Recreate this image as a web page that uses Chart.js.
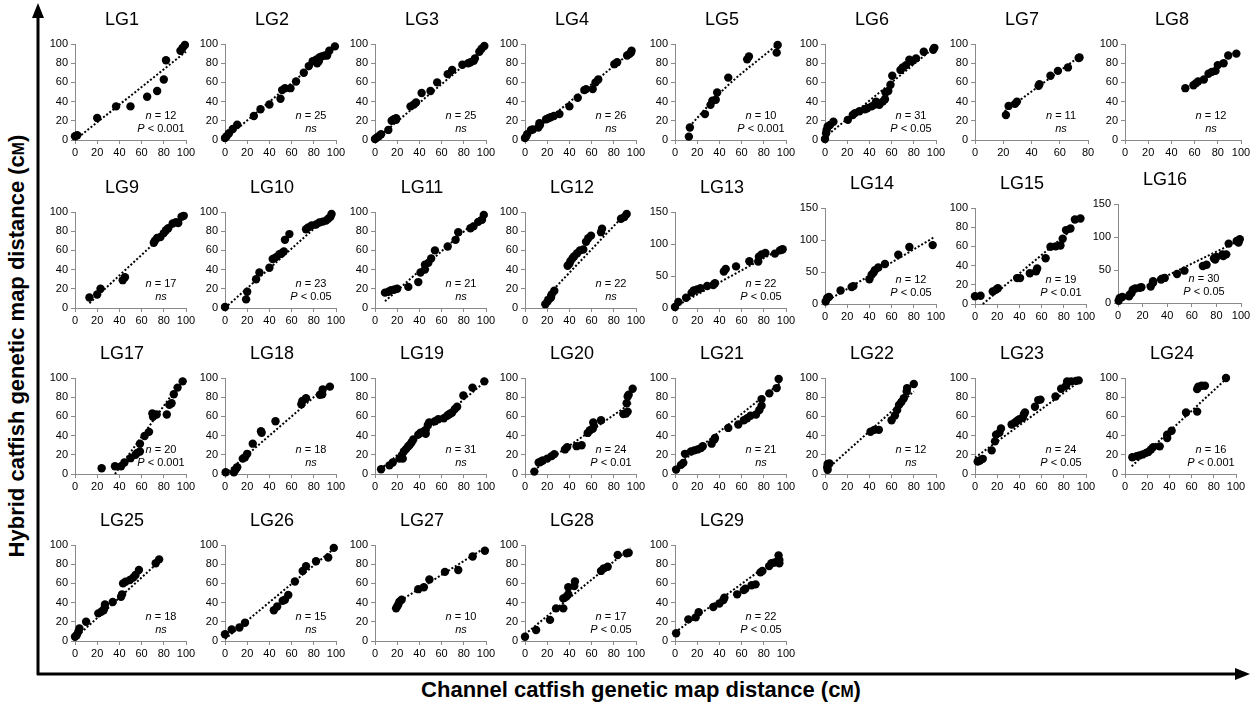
<!DOCTYPE html>
<html>
<head>
<meta charset="utf-8">
<script src="https://cdn.jsdelivr.net/npm/chart.js@4.4.1/dist/chart.umd.min.js"></script>
<style>
  html, body { margin: 0; padding: 0; background: #fff; }
  #wrap { position: relative; width: 1253px; height: 706px; overflow: hidden; font-family: "Liberation Sans", Arial, sans-serif; }
  #wrap canvas { position: absolute; }
  #ylab { position: absolute; left: 17px; top: 346px; transform: translate(-50%, -50%) rotate(-90deg); font-weight: bold; font-size: 22px; white-space: nowrap; }
  #xlab { position: absolute; left: 641px; top: 690px; transform: translate(-50%, -50%); font-weight: bold; font-size: 22px; white-space: nowrap; }
  .sc { font-size: 0.72em; }
</style>
</head>
<body>
<div id="wrap">
  <svg width="1253" height="706" style="position:absolute;left:0;top:0">
    <line x1="38" y1="16" x2="38" y2="675" stroke="#000" stroke-width="3"/>
    <polygon points="38,3 32,18 44,18" fill="#000"/>
    <line x1="37" y1="674" x2="1237" y2="674" stroke="#000" stroke-width="3"/>
    <polygon points="1250,674 1235,668 1235,680" fill="#000"/>
  </svg>
  <div id="ylab">Hybrid catfish genetic map distance (c<span class="sc">M</span>)</div>
  <div id="xlab">Channel catfish genetic map distance (c<span class="sc">M</span>)</div>
</div>
<script>
const titles = ["LG1","LG2","LG3","LG4","LG5","LG6","LG7","LG8","LG9","LG10","LG11","LG12","LG13","LG14","LG15",
  "LG16","LG17","LG18","LG19","LG20","LG21","LG22","LG23","LG24","LG25","LG26","LG27","LG28","LG29"];
const nCounts = [12,25,25,26,10,31,11,12,17,23,21,22,22,12,19,30,20,18,31,24,21,12,24,16,18,15,10,17,22];
const sigLabels = ["P < 0.001","ns","ns","ns","P < 0.001","P < 0.05","ns","ns","ns","P < 0.05","ns","ns","P < 0.05",
  "P < 0.05","P < 0.01","P < 0.05","P < 0.001","ns","ns","P < 0.01","ns","ns","P < 0.05","P < 0.001","ns","ns","ns",
  "P < 0.05","P < 0.05"];
const xMaxes = [100,100,100,100,100,100,80,100,100,100,100,100,100,100,100,100,100,100,100,100,100,100,100,100,100,100,100,100,100];
const yMaxes = [100,100,100,100,100,100,100,100,100,100,100,100,150,150,100,150,100,100,100,100,100,100,100,100,100,100,100,100,100];

// channel (x), hybrid (y) map positions
const lg1 = [[0,4],[2,5],[20,23],[37,35],[50,35],[65,45],[74,51],[80,63],[82,83],[95,93],[97,96],[99,99]];
const lg2 = [[0,2],[1.5,4],[3.6,7],[7,11.5],[11,16],[26,25],[32,32],[40,37],[50,43],[51.5,52],[54,54],[59,54],[64,61],
  [71,70],[75.5,77],[79,82],[82,83.6],[83,80],[84.5,82],[85,86],[87,87],[90,88],[92,88],[94,93],[99,97.5]];
const lg3 = [[0,1],[1.5,2.4],[3.4,4],[5.5,6],[12,10.5],[15,20],[17,21.6],[19,21],[19,22.6],[32,35],[35,37],[37,39],
  [42,49],[50,51],[56,60],[65.5,68.6],[69.5,73],[78.7,78.4],[84,80],[86,81],[89,82.6],[90,85],[94,92],[96,95],[98.5,98]];
const lg4 = [[0,2],[1,3.5],[2,6],[5.4,10.5],[7,11],[12,13],[13.5,15.7],[13,17.4],[19,21.6],[21,22.6],[23,23.7],[26,25],
  [31,27],[40,35],[47.5,44],[53.5,52],[55,53],[61,53],[63.5,60],[66,63],[80.5,79],[83,81],[92,88],[94,89.5],[95.5,91],[96,93]];
const lg5 = [[12.5,3.5],[13.4,13],[27,27],[32,36.6],[33.7,41],[36.7,42],[38,49.5],[48,65],[65,84],[66.6,87],[91.6,91],[92.5,99]];
const lg6 = [[0,1],[1,7],[1.5,10.5],[2.4,14],[4.5,15.7],[7.6,19],[20.6,21],[25,26],[27,28],[31,30],[36,32],[38,33],[42,35],
  [45,37],[46,40],[49,36.6],[52,40],[54,42.5],[54.5,49.5],[57,51],[59,57.5],[60.6,67],[68,73],[70,75.6],[73,78],[76,83.6],
  [78,82],[82,85],[89,92],[97.5,94],[98.5,96]];
const lg7 = [[21.9,26],[23.8,35.5],[28.3,37.6],[29.7,40],[45,56.4],[45.6,58],[53.4,67],[58.7,72],[65.8,75.6],[73.4,85.4],[74,86]];
const lg8 = [[52,54],[59,57],[61,59],[63,61],[68,63],[72,69],[75,71],[78,72],[80,78],[85,80],[89,88],[96,90]];
const lg9 = [[13,11],[20,14],[23,20],[43,29],[45,32],[71,68],[72,70],[74,73],[77,74],[80,78],[82,81],[84,83],[88,88],
  [91,89.5],[93,88.5],[96,95],[98,96]];
const lg10 = [[0,1],[19,9],[20,17],[28,30],[31,37],[40,42],[43,51],[46,53],[49,56],[51,57],[53,59],[54,71],[58,77],
  [73,82],[75,84],[78,86],[82,87],[85,89],[88,90],[91,91],[93,93],[95,95],[96,98]];
const lg11 = [[9,16],[12,17],[14.5,18.5],[17.6,19.3],[20,20],[30,22],[39,27],[41,37],[45,40],[45,45],[48,47],[50.6,51.5],
  [54,60],[65.5,64],[72.6,71],[75,79],[86,83],[88.7,85],[93,89.7],[96.4,92],[98,97]];
const lg12 = [[18.3,4],[20.4,7],[22,9.5],[23.4,11],[24,14],[26.4,18],[38.4,44],[40,46],[41,49],[43,52],[44.4,54],[47,57],
  [49.5,60],[52.5,61],[55,69],[57,72.6],[59.5,75.4],[68.5,79],[69.4,82.5],[86.5,93],[89.5,94.7],[91.6,98]];
const lg13 = [[0,1.6],[3,9.5],[10,16],[15,24],[17,27.6],[20,29],[23,31],[29,34.4],[34.5,36],[36,38.7],[44,57],[45.7,61],
  [55,65],[67,73],[75,72.6],[75.6,80],[78,83.7],[81.4,86],[90,85],[94.5,90],[96,91],[97,91.7]];
const lg14 = [[0.6,4],[2,9.5],[3.6,11],[14,21],[24,26.5],[25.6,28],[40,38.7],[42,45.6],[43.7,49],[45,53],[48,57],[54,62.5],
  [66,77],[76,89],[97,92]];
const lg15 = [[0,8],[5,8.6],[16,13],[19,15],[20.6,16.5],[38,27],[40.6,27],[49.4,32],[55,34],[56,37],[63.6,47.6],[68,59.7],
  [72.7,60],[77,61],[79,68],[82,77],[86,78.6],[90,88],[95,89]];
const lg16 = [[0.5,3.5],[1.4,7.6],[3.5,9],[9,10],[9.5,12.7],[11,15],[12,20],[14,22],[17.7,23],[19,24],[26.6,25],[28.5,30.5],
  [28.5,33],[35,35.6],[36,37],[38,38],[48,44],[54,49],[69,56],[72,58],[78,67.6],[79,66],[80,69.6],[85,73.7],[85.6,71],
  [88,73.7],[90,90],[96.5,94],[98,91.5],[99,96.6]];
const lg17 = [[24,6],[36,8],[41.5,8],[44.5,12],[50,16.5],[54.5,20],[56,22],[58.5,23.5],[58.5,31.6],[62.7,39.6],[66.7,43.9],
  [69.7,63],[70.3,59.6],[73.6,62],[82.7,62],[85,72],[87,73.7],[89,83],[92.4,90],[97,96.5]];
const lg18 = [[0.6,1.8],[8,1.8],[9.7,5],[11,7],[16,16],[18,17.5],[20,21],[25,31.6],[32.4,44.6],[33,43],[45.5,55],[68.8,72.6],
  [69.7,76],[73,79],[85.5,82.5],[87.6,83],[88,88],[94.5,91]];
const lg19 = [[5.5,5],[13,9],[16,12],[22,16],[24,19],[25,16],[26,23.5],[28,26],[30,29],[31.4,30.5],[33,33],[34.5,36],[39,41],
  [41,43],[43.6,44],[45.7,42],[45.7,46],[47.6,51],[48.8,53.7],[54,55],[57,57],[62,58],[65,60.7],[66.5,62],[68,63],[69.5,64],
  [72,67.7],[74,70],[79.6,81.8],[87.8,90],[98.5,96.5]];
const lg20 = [[8.4,2.5],[12.3,12],[14.4,13],[16,14],[20,16],[24,18.6],[26.4,20.7],[36,25.6],[38,28],[46.5,29],[51,30],
  [56.5,42.8],[58.5,45.6],[61,47],[62,50],[61.5,53.7],[68.5,56],[88.6,62.5],[91,63],[92.5,65],[91.6,73.7],[92.5,80.7],
  [93.4,82.5],[97,88.8]];
const lg21 = [[1,4.6],[5.4,9.5],[7.5,11.6],[9,21],[14.4,23.5],[17.4,24.6],[20.4,25.6],[23.4,27],[25,29],[33,31.6],[35.4,35.8],
  [36,37.5],[48,48],[57,51.6],[62,56],[65,58],[68,60.7],[73,62],[76,66.7],[78,71],[78,78],[85,84],[91.6,89.5],[93.4,99]];
const lg22 = [[2,7],[2.4,10.5],[4,11],[2.4,4.5],[41,44],[44.5,46],[48.5,46],[60,56],[63,61],[65,66.7],[66.7,72],[68.8,75],
  [71,79],[73.6,86],[74,89.5],[80,93.7]];
const lg23 = [[2.4,13],[4.5,14],[7,15.8],[15,24.6],[18,34],[19,41],[22,43],[23.4,47.4],[33,51.6],[36,53.7],[38,55.4],[40,57],
  [43,58.6],[44,62],[45,64],[54,70],[57,77],[59,77.5],[72.5,80.7],[77.6,88.8],[82,92],[83,96.5],[86.6,96.5],[91,97],[93.4,97.5]];
const lg24 = [[6.6,17.5],[10.5,18.6],[13,19.3],[16,20.4],[19,22],[21,23],[23.4,25.6],[25.4,28],[31.3,28.8],[38,37.5],[38,41],
  [42,45],[55,64],[65,65],[65,88.4],[66,91],[69,92],[72,92],[91,100]];
const lg25 = [[0,4.5],[1.5,6],[3,9.7],[4,13],[10,20],[21,28.8],[23.6,30.5],[25.8,32],[26.7,35],[27,38],[34,40.6],[41.5,46],
  [42.4,48.6],[43.3,60],[45.5,61.8],[49.4,63.5],[52.4,66],[54.5,68.75],[57.6,74],[72.7,81],[75.8,85]];
const lg26 = [[0,7],[6,12],[13,14],[18,19],[44,32],[47,36],[52,42],[54,43],[57,48],[63,62],[70,73],[73,78],[82,83],[93,87],[98,97]];
const lg27 = [[19,34],[20,36],[21,38],[22,41],[24,43],[39,54],[44,56],[49,64],[63,72],[75,74],[88,88],[99,94]];
const lg28 = [[0,4.5],[10,11.5],[22.5,22],[28,34],[34.5,34],[34.5,44.4],[37,46],[39,48.6],[39,56],[44.4,57.3],[45,62],
  [68.5,73],[71,75.7],[74.5,77.4],[83.5,89.6],[91.6,91.3],[93.4,92]];
const lg29 = [[1,8],[12,22.5],[18.6,24.6],[21.3,30],[34.5,35.4],[40,39],[43.6,42.7],[44.5,45],[56,48.6],[62,53],[63.4,54.5],
  [69,58],[72.6,59],[77,71.5],[78.7,73],[84.8,78],[86.9,81],[89,81.6],[92.4,83.3],[93.3,89.2],[94,81],[94,84.4]];
const panelPoints = [lg1,lg2,lg3,lg4,lg5,lg6,lg7,lg8,lg9,lg10,lg11,lg12,lg13,lg14,lg15,lg16,lg17,lg18,lg19,lg20,
  lg21,lg22,lg23,lg24,lg25,lg26,lg27,lg28,lg29];

// dotted trend lines, end points
const trendLines = [
  [[0,0],[100,92]], [[0,1],[100,98]], [[0,0],[100,97]], [[0,2],[96,92]], [[13,14],[45,54],[93,100]], [[0,3],[97,95]],
  [[21,30],[74,87]], null, [[13,5],[98,96]], [[0,0],[97,100]], [[9,7],[98,98]], [[18,10],[92,100]], [[0,2],[97,94]],
  [[0,3],[98,104]], [[7,0],[90,80]], [[0,5],[100,96]], [[36,0],[98,100]], [[0,0],[95,95]], [[5,5],[100,97]],
  [[8,4],[97,75]], [[0,7],[95,95]], [[2,5],[80,86]], [[0,17],[96,98]], [[6,8],[92,100]], [[0,3],[77,84]],
  [[0,2],[98,96]], [[20,40],[99,97]], [[0,7],[95,97]], [[0,9],[95,89]]
];

const FONT = '"Liberation Sans", Arial, sans-serif';
const rowTops = [44, 212, 378, 545];
const plotH = 96;
const plotW = 111;
// a few panels in the figure sit slightly off the grid
const nudges = { 6: { w: 113 }, 7: { w: 116 }, 13: { top: 208 }, 14: { top: 208 }, 15: { left: 1118, top: 204, w: 123, h: 99 } };

function drawRuns(ctx, runs, cx, cy) {
  let total = 0;
  runs.forEach((r) => { ctx.font = (r[1] ? 'italic ' : '') + '11px ' + FONT; total += ctx.measureText(r[0]).width; });
  let x = cx - total / 2;
  runs.forEach((r) => {
    ctx.font = (r[1] ? 'italic ' : '') + '11px ' + FONT;
    ctx.fillText(r[0], x, cy);
    x += ctx.measureText(r[0]).width;
  });
}

const panelText = {
  id: 'panelText',
  afterDraw(chart, args, opts) {
    const { ctx, chartArea: a } = chart;
    ctx.save();
    ctx.fillStyle = '#000';
    ctx.textBaseline = 'middle';
    ctx.textAlign = 'center';
    ctx.font = '18px ' + FONT;
    ctx.fillText(opts.title, a.left + 47, a.top - 24);
    ctx.textAlign = 'left';
    const cx = a.left + 86;
    drawRuns(ctx, [['n', true], [' = ' + opts.n, false]], cx, a.bottom - 24);
    if (opts.sig === 'ns') drawRuns(ctx, [['ns', true]], cx, a.bottom - 11);
    else drawRuns(ctx, [['P', true], [opts.sig.slice(1), false]], cx, a.bottom - 11);
    ctx.restore();
  },
};

const wrap = document.getElementById('wrap');
titles.forEach((title, i) => {
  const row = Math.floor(i / 8), col = i % 8;
  const nd = nudges[i] || {};
  const left = nd.left || (75 + 150 * col);
  const top = nd.top || rowTops[row];
  const w = nd.w || plotW, h = nd.h || plotH;
  const axW = 36, axH = 24, padTop = 44, padRight = 16;
  const cv = document.createElement('canvas');
  cv.width = axW + w + padRight;
  cv.height = padTop + h + axH;
  cv.style.left = (left - axW) + 'px';
  cv.style.top = (top - padTop) + 'px';
  wrap.appendChild(cv);

  const axisGrid = { display: true, drawOnChartArea: false, drawTicks: true, tickLength: 4, color: '#8a8a8a', lineWidth: 1 };
  const datasets = [{
    data: panelPoints[i].map(([x, y]) => ({ x, y })),
    pointRadius: 4.2, pointBackgroundColor: '#000', pointBorderColor: '#000', pointBorderWidth: 0, showLine: false, clip: false,
  }];
  if (trendLines[i]) {
    datasets.push({
      data: trendLines[i].map(([x, y]) => ({ x, y })),
      showLine: true, pointRadius: 0, borderColor: '#000', borderWidth: 2, borderDash: [2, 2],
      cubicInterpolationMode: 'monotone', clip: false,
    });
  }
  new Chart(cv, {
    type: 'scatter',
    data: { datasets },
    options: {
      responsive: false, animation: false, events: [],
      layout: { padding: { top: padTop, right: padRight, left: 0, bottom: 0 } },
      plugins: { legend: { display: false }, tooltip: { enabled: false },
        panelText: { title, n: nCounts[i], sig: sigLabels[i] } },
      scales: {
        x: {
          type: 'linear', min: 0, max: xMaxes[i],
          afterFit: (s) => { s.height = axH; },
          ticks: { stepSize: 20, color: '#000', padding: 2, maxRotation: 0, autoSkip: false, font: { size: 11, family: FONT } },
          grid: axisGrid, border: { color: '#8a8a8a', width: 1 },
        },
        y: {
          type: 'linear', min: 0, max: yMaxes[i],
          afterFit: (s) => { s.width = axW; },
          ticks: { stepSize: yMaxes[i] > 100 ? 50 : 20, color: '#000', padding: 3, autoSkip: false, font: { size: 11, family: FONT } },
          grid: axisGrid, border: { color: '#8a8a8a', width: 1 },
        },
      },
    },
    plugins: [panelText],
  });
});
</script>
</body>
</html>
